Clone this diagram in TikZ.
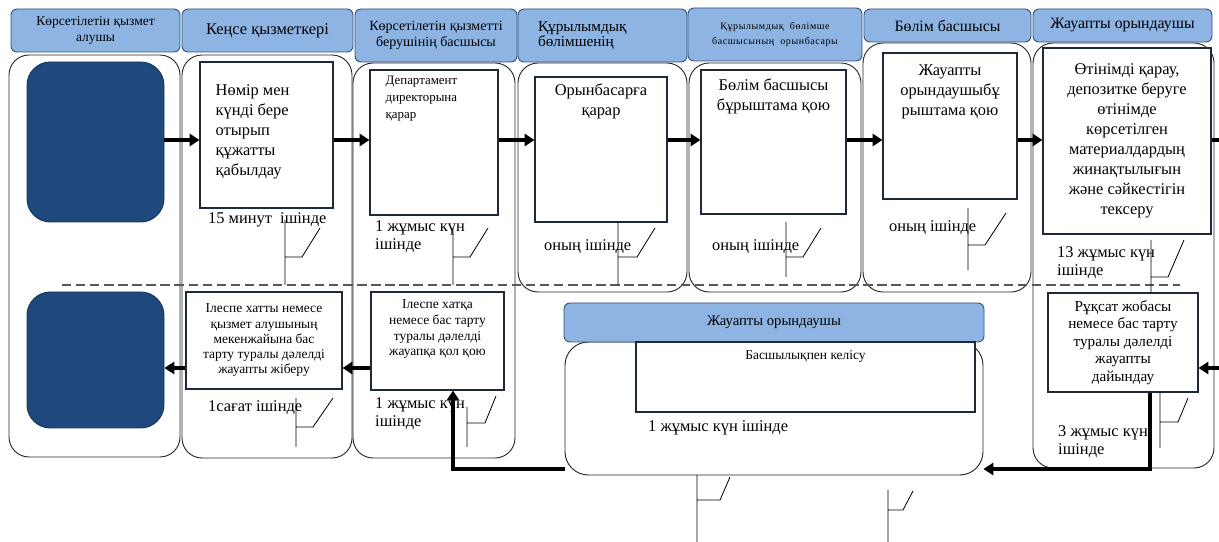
\documentclass[tikz,border=0pt]{standalone}
\usepackage{fontspec}
\setmainfont{Liberation Serif}
\usetikzlibrary{arrows.meta}
\newcommand\fsz[2]{\fontsize{#1}{#2}\selectfont}
\definecolor{hdrfill}{HTML}{8DB4E2}
\definecolor{hdrline}{HTML}{34507A}
\definecolor{darkfill}{HTML}{1F497D}
\definecolor{darkline}{HTML}{17375E}
\definecolor{boxline}{HTML}{1E2A3A}
\begin{document}
\begin{tikzpicture}[x=0.03cm,y=-0.03cm,
  sz/.style 2 args={minimum width=#1*0.03cm, minimum height=#2*0.03cm},
  hdr/.style={draw=hdrline, fill=hdrfill, line width=0.8pt, rounded corners=0.18cm, inner sep=0pt, align=center},
  lane/.style={draw=black!85, line width=0.8pt, rounded corners=0.6cm, inner sep=0pt},
  dark/.style={draw=darkline, fill=darkfill, line width=0.8pt, rounded corners=0.7cm, inner sep=0pt},
  box/.style={draw=boxline, fill=white, line width=0.9pt, inner sep=0pt, align=center},
  inlbl/.style={inner sep=0pt, align=center},
  note/.style={inner sep=0pt, anchor=north west, align=left, font=\fsz{14}{15.4}},
  flow/.style={line width=3pt, -{Triangle[length=8.5pt,width=10.5pt]}},
  callout/.style={line width=0.7pt, black}
]
\useasboundingbox (0,0) rectangle (1219,542);
\clip (0,0) rectangle (1219,542);

% lanes
\node[lane, sz={171}{402}] (l1) at (94.5,256) {};
\node[lane, sz={170}{403}] (l2) at (267,256.5) {};
\node[lane, sz={162}{395}] (l3) at (434,260.5) {};
\node[lane, sz={169}{229}] (l4) at (602.5,177.5) {};
\node[lane, sz={172}{229}] (l5) at (775,177.5) {};
\node[lane, sz={168}{249}] (l6) at (947,167.5) {};
\node[lane, sz={181}{425}] (l7) at (1123.5,255.5) {};
\node[lane, sz={418}{133}, rounded corners=0.7cm] (lj) at (774,408.5) {};

% dashed separator
\draw[dashed, dash pattern=on 8pt off 4pt, line width=1pt, black!65] (62,285) -- (1180,285);

% headers
\node[hdr, sz={169}{43}, font=\fsz{11.5}{13}] (h1) at (95.5,30.5) {Көрсетілетін қызмет\\алушы};
\node[hdr, sz={171}{43}, font=\fsz{14}{16}] (h2) at (267.5,30.5) {Кеңсе қызметкері};
\node[hdr, sz={162}{53}, font=\fsz{12}{13.5}] (h3) at (436,35.5) {Көрсетілетін қызметті\\берушінің басшысы};
\node[hdr, sz={169}{53}, font=\fsz{13}{13.5}, text width=3.87cm, align=left] (h4) at (602.5,35.5) {Құрылымдық\\бөлімшенің};
\node[hdr, sz={174}{53}, font={\fsz{8.5}{12.5}\addfontfeature{LetterSpace=6}}] (h5) at (775,34.5) {Құрылымдық~~бөлімше\\басшысының~~орынбасары};
\node[hdr, sz={167}{33}, font=\fsz{13.5}{15}] (h6) at (947.5,25.5) {Бөлім басшысы};
\node[hdr, sz={179}{33}, font=\fsz{13.5}{15}] (h7) at (1122.5,25.5) {Жауапты орындаушы};
\node[hdr, sz={420}{39}, font=\fsz{12.5}{14}] (hj) at (774,322.5) {Жауапты орындаушы};

% dark terminal boxes
\node[dark, sz={137}{160}] (d1) at (95.5,142) {};
\node[dark, sz={137}{136}] (d2) at (95.5,360) {};

% process boxes
\node[box, sz={133}{146}, label={[inlbl, anchor=north west, align=left, font=\fsz{14}{17}, xshift=0.48cm, yshift=-0.69cm]north west:Нөмір мен\\күнді бере\\отырып\\құжатты\\қабылдау}] (b2) at (266.5,135) {};
\node[box, sz={128}{145}, label={[inlbl, anchor=north west, align=left, font=\fsz{11}{14.5}, xshift=0.48cm, yshift=-0.18cm]north west:Департамент\\директорына\\қарар}] (b3) at (434,142.5) {};
\node[box, sz={132}{145}, label={[inlbl, anchor=north, font=\fsz{14}{17}, yshift=-0.21cm]north:Орынбасарға\\қарар}] (b4) at (601,149.5) {};
\node[box, sz={145}{144}, label={[inlbl, anchor=north, font=\fsz{14}{17}, yshift=-0.27cm]north:Бөлім басшысы\\бұрыштама қою}] (b5) at (773.5,142) {};
\node[box, sz={134}{146}, label={[inlbl, anchor=north, font=\fsz{14}{17}, yshift=-0.36cm]north:Жауапты\\орындаушыбұ\\рыштама қою}] (b6) at (950,126) {};
\node[box, sz={168}{186}, font=\fsz{14}{17}] (b7) at (1127,141) {Өтінімді қарау,\\депозитке беруге\\өтінімде\\көрсетілген\\материалдардың\\жинақтылығын\\және сәйкестігін\\тексеру};
\node[box, sz={150}{99}, font=\fsz{13}{15}] (b8) at (1123,342.5) {Рұқсат жобасы\\немесе бас тарту\\туралы дәлелді\\жауапты\\дайындау};
\node[box, sz={156}{97}, font=\fsz{11.5}{13}] (b2b) at (264,340.5) {Ілеспе хатты немесе\\қызмет алушының\\мекенжайына бас\\тарту туралы дәлелді\\жауапты жіберу};
\node[box, sz={133}{98}, label={[inlbl, anchor=north, font=\fsz{11.5}{13.5}, yshift=-0.24cm]north:Ілеспе хатқа\\немесе бас тарту\\туралы дәлелді\\жауапқа қол қою}] (b3b) at (437.5,341) {};
\node[box, sz={339}{70}, label={[inlbl, anchor=north, font=\fsz{11.5}{13.5}, yshift=-0.27cm]north:Басшылықпен келісу}] (bk) at (805.5,377) {};

% helper coordinates
\coordinate (r1) at (0,140);
\coordinate (r2) at (0,368);
\coordinate (rx) at (1240,0);
\coordinate (dn) at (1150,469);
\coordinate (up) at (453,469);

% flows, top row
\draw[flow] (d1.east |- r1) -- (b2.west |- r1);
\draw[flow] (b2.east |- r1) -- (b3.west |- r1);
\draw[flow] (b3.east |- r1) -- (b4.west |- r1);
\draw[flow] (b4.east |- r1) -- (b5.west |- r1);
\draw[flow] (b5.east |- r1) -- (b6.west |- r1);
\draw[flow] (b6.east |- r1) -- (b7.west |- r1);
\draw[flow] (b7.east |- r1) -- (rx |- r1) -- (rx |- r2) -- (b8.east |- r2);
% flows, bottom
\draw[flow] (dn |- b8.south) -- (dn) -- (lj.east |- dn);
\draw[flow] (lj.west |- up) -- (up) -- (up |- b3b.south);
\draw[flow] (b3b.west |- r2) -- (b2b.east |- r2);
\draw[flow] (b2b.west |- r2) -- (d2.east |- r2);

% time notes
\node[note] (t1) at (208,212) {15 минут~~ішінде};
\node[note] (t2) at (375,220) {1 жұмыс күн\\ішінде};
\node[note] (t3) at (544,239) {оның ішінде};
\node[note] (t4) at (712,239) {оның ішінде};
\node[note] (t5) at (889,220) {оның ішінде};
\node[note] (t6) at (1057,246) {13 жұмыс күн\\ішінде};
\node[note] (t7) at (1058,425) {3 жұмыс күн\\ішінде};
\node[note] (t8) at (208,400) {1сағат ішінде};
\node[note] (t9) at (375,397) {1 жұмыс күн\\ішінде};
\node[note] (t10) at (648,420) {1 жұмыс күн ішінде};

% callout brackets
\draw[callout] (285,220) -- (285,285) (285,257) -- (302,257) -- (320,228);
\draw[callout] (453,228) -- (453,285) (453,257) -- (470,257) -- (488,228);
\draw[callout] (618,222) -- (618,285) (618,257) -- (637,257) -- (655,228);
\draw[callout] (786,222) -- (786,277) (786,257) -- (803,257) -- (821,228);
\draw[callout] (968,208) -- (968,270) (968,245) -- (985,245) -- (1006,213);
\draw[callout] (1151,240) -- (1151,293) (1151,277) -- (1168,277) -- (1184,240);
\draw[callout] (1160,392) -- (1160,448) (1160,422) -- (1178,422) -- (1188,398);
\draw[callout] (296,398) -- (296,447) (296,427) -- (313,427) -- (333,398);
\draw[callout] (467,407) -- (467,447) (467,423) -- (485,423) -- (496,396);
\draw[callout] (697,475) -- (697,542) (697,500) -- (720,500) -- (730,477);
\draw[callout] (888,490) -- (888,542) (888,510) -- (903,510) -- (913,491);
\end{tikzpicture}
\end{document}
